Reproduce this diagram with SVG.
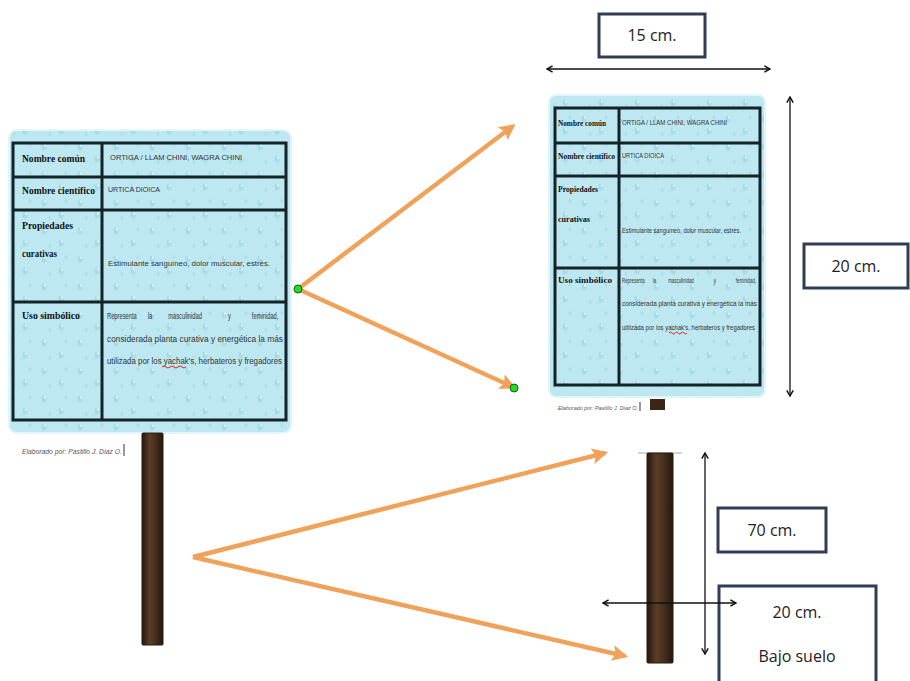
<svg xmlns="http://www.w3.org/2000/svg" width="910" height="681" viewBox="0 0 910 681">
<defs>
<style>
.panel{fill:url(#drops);stroke:#e2f5f9;stroke-width:2}
.tbl{fill:none;stroke:#142328;stroke-width:3}
.lbl{font-family:"Liberation Serif",serif;font-weight:bold;fill:#111;}
.val{font-family:"Liberation Sans",Arial,sans-serif;fill:#333;}
.foot{font-family:"Liberation Sans",Arial,sans-serif;font-style:italic;fill:#555;}
.post{fill:url(#wood);stroke:#2a1a10;stroke-width:1}
.dim{fill:#fff;stroke:#2f3e55;stroke-width:3}
.dimtxt{font-family:"Open Sans","Liberation Sans",sans-serif;font-size:16px;fill:#222;text-anchor:middle}
.dline{stroke:#111;stroke-width:1.3;fill:none;marker-start:url(#dh);marker-end:url(#dh)}
.orange{stroke:#f0a25a;stroke-width:4.5;fill:none;marker-end:url(#oh)}
.dot{fill:#22dd22;stroke:#1a5a1a;stroke-width:1}
</style>
<pattern id="drops" width="36" height="28" patternUnits="userSpaceOnUse">
<rect width="36" height="28" fill="#bde8f1"/>
<ellipse cx="8" cy="7" rx="2.5" ry="3.5" fill="#a6dbe7"/>
<ellipse cx="25" cy="19" rx="2.5" ry="3.5" fill="#a6dbe7"/>
<ellipse cx="9" cy="5.5" rx="1" ry="1.2" fill="#e6f8fb"/>
<ellipse cx="26" cy="17.5" rx="1" ry="1.2" fill="#e6f8fb"/>
<ellipse cx="30" cy="5" rx="1.5" ry="2" fill="#b0e0ea"/>
<ellipse cx="14" cy="22" rx="1.5" ry="2" fill="#b0e0ea"/>
</pattern>
<linearGradient id="wood" x1="0" y1="0" x2="1" y2="0">
<stop offset="0" stop-color="#24160c"/>
<stop offset="0.35" stop-color="#5a3e28"/>
<stop offset="0.6" stop-color="#4a3220"/>
<stop offset="1" stop-color="#24160c"/>
</linearGradient>
<marker id="oh" viewBox="0 0 10 10" refX="8" refY="5" markerWidth="16" markerHeight="16" markerUnits="userSpaceOnUse" orient="auto">
<path d="M0,0 L10,5 L0,10 L2,5 Z" fill="#f0a25a"/>
</marker>
<marker id="dh" viewBox="0 0 10 10" refX="9" refY="5" markerWidth="8" markerHeight="8" markerUnits="userSpaceOnUse" orient="auto-start-reverse">
<path d="M2,1 L9,5 L2,9" fill="none" stroke="#111" stroke-width="1.8"/>
</marker>
</defs>
<rect width="910" height="681" fill="#ffffff"/>

<g id="sign-left">
<rect class="panel" x="9" y="130" width="282" height="303" rx="8"/>
<rect class="tbl" x="13" y="143" width="273" height="277"/>
<line class="tbl" x1="13" y1="177" x2="286" y2="177"/>
<line class="tbl" x1="13" y1="210" x2="286" y2="210"/>
<line class="tbl" x1="13" y1="302" x2="286" y2="302"/>
<line class="tbl" x1="102" y1="143" x2="102" y2="420"/>
<text class="lbl" x="22" y="162" font-size="11" textLength="63" lengthAdjust="spacingAndGlyphs">Nombre común</text>
<text class="val" x="110" y="160" font-size="8" textLength="132" lengthAdjust="spacingAndGlyphs">ORTIGA / LLAM CHINI, WAGRA CHINI</text>
<text class="lbl" x="22" y="194" font-size="11" textLength="73" lengthAdjust="spacingAndGlyphs">Nombre científico</text>
<text class="val" x="108" y="192" font-size="8" textLength="52" lengthAdjust="spacingAndGlyphs">URTICA DIOICA</text>
<text class="lbl" x="22" y="229" font-size="11" textLength="51" lengthAdjust="spacingAndGlyphs">Propiedades</text>
<text class="lbl" x="22" y="257" font-size="11" textLength="35" lengthAdjust="spacingAndGlyphs">curativas</text>
<text class="val" x="108" y="266" font-size="8" textLength="162" lengthAdjust="spacingAndGlyphs">Estimulante  sanguíneo, dolor muscular, estrés.</text>
<text class="lbl" x="22" y="319" font-size="11" textLength="58" lengthAdjust="spacingAndGlyphs">Uso simbólico</text>
<text class="val" font-size="8.5" transform="translate(107,319) scale(0.68,1)"><tspan x="0">Representa</tspan><tspan x="60">la</tspan><tspan x="90">masculinidad</tspan><tspan x="178">y</tspan><tspan x="213">feminidad,</tspan></text>
<text class="val" x="107" y="342" font-size="8.5" textLength="176" lengthAdjust="spacingAndGlyphs">considerada  planta  curativa  y  energética  la  más</text>
<text class="val" x="107" y="364" font-size="8.5" textLength="175" lengthAdjust="spacingAndGlyphs">utilizada por los yachak's, herbateros y fregadores</text>
<path d="M162,367 q2,-2 4,0 t4,0 t4,0 t4,0 t4,0 t4,0" fill="none" stroke="#d22" stroke-width="1"/>
<text class="foot" x="22" y="454" font-size="7" textLength="100" lengthAdjust="spacingAndGlyphs">Elaborado  por: Pastillo J. Díaz O.</text>
<line x1="124" y1="444" x2="124" y2="456" stroke="#333" stroke-width="1"/>
</g>

<g id="post-left">
<rect class="post" x="142" y="433" width="21" height="212" rx="1"/>
</g>

<g id="sign-right">
<rect class="panel" x="549" y="95" width="216" height="302" rx="7"/>
<rect class="tbl" x="555" y="108" width="205" height="277"/>
<line class="tbl" x1="555" y1="143" x2="760" y2="143"/>
<line class="tbl" x1="555" y1="176" x2="760" y2="176"/>
<line class="tbl" x1="555" y1="268" x2="760" y2="268"/>
<line class="tbl" x1="619" y1="108" x2="619" y2="385"/>
<text class="lbl" x="558" y="126" font-size="8.5" textLength="48" lengthAdjust="spacingAndGlyphs">Nombre común</text>
<text class="val" x="622" y="125" font-size="7.5" textLength="105" lengthAdjust="spacingAndGlyphs">ORTIGA / LLAM CHINI, WAGRA CHINI</text>
<text class="lbl" x="558" y="159" font-size="8" textLength="57" lengthAdjust="spacingAndGlyphs">Nombre científico</text>
<text class="val" x="622" y="158" font-size="7.5" textLength="42" lengthAdjust="spacingAndGlyphs">URTICA DIOICA</text>
<text class="lbl" x="558" y="192" font-size="9" textLength="40" lengthAdjust="spacingAndGlyphs">Propiedades</text>
<text class="lbl" x="558" y="222" font-size="9" textLength="32" lengthAdjust="spacingAndGlyphs">curativas</text>
<text class="val" x="622" y="233" font-size="7.5" textLength="119" lengthAdjust="spacingAndGlyphs">Estimulante sanguíneo, dolor muscular, estrés.</text>
<text class="lbl" x="558" y="283" font-size="8" textLength="54" lengthAdjust="spacingAndGlyphs">Uso simbólico</text>
<text class="val" font-size="8" transform="translate(622,283) scale(0.55,1)"><tspan x="0">Representa</tspan><tspan x="56">la</tspan><tspan x="84">masculinidad</tspan><tspan x="167">y</tspan><tspan x="207">feminidad,</tspan></text>
<text class="val" x="622" y="306" font-size="8" textLength="135" lengthAdjust="spacingAndGlyphs">considerada  planta  curativa  y  energética  la  más</text>
<text class="val" x="622" y="330" font-size="8" textLength="133" lengthAdjust="spacingAndGlyphs">utilizada por los yachak's, herbateros y fregadores</text>
<path d="M669,333 q1.5,-2 3,0 t3,0 t3,0 t3,0 t3,0 t3,0" fill="none" stroke="#d22" stroke-width="1"/>
<text class="foot" x="558" y="410" font-size="6" textLength="80" lengthAdjust="spacingAndGlyphs">Elaborado  por: Pastillo J. Díaz O.</text>
<line x1="640" y1="402" x2="640" y2="411" stroke="#333" stroke-width="1"/>
<rect x="650" y="399" width="15" height="11" fill="#3a2616"/>
</g>

<g id="post-right">
<line x1="638" y1="453" x2="682" y2="453" stroke="#aaa" stroke-width="1"/>
<rect class="post" x="647" y="453" width="26" height="210" rx="1"/>
</g>

<g id="dim-15">
<rect class="dim" x="599" y="14" width="106" height="43"/>
<text class="dimtxt" x="652" y="41">15 cm.</text>
</g>
<g id="dim-20">
<rect class="dim" x="804" y="244" width="104" height="44"/>
<text class="dimtxt" x="856" y="272">20 cm.</text>
</g>
<g id="dim-70">
<rect class="dim" x="718" y="508" width="108" height="44"/>
<text class="dimtxt" x="772" y="536">70 cm.</text>
</g>
<g id="dim-bajo">
<path class="dim" d="M719,690 L719,586 L876,586 L876,690"/>
<text class="dimtxt" x="797" y="618">20 cm.</text>
<text class="dimtxt" x="797" y="662">Bajo suelo</text>
</g>

<g id="connectors">
<line class="dline" x1="547" y1="69" x2="770" y2="69"/>
<line class="dline" x1="790" y1="97" x2="790" y2="396"/>
<line class="dline" x1="705" y1="453" x2="705" y2="654"/>
<line class="dline" x1="603" y1="603" x2="736" y2="603"/>
<line class="orange" x1="298" y1="289" x2="513" y2="126"/>
<line class="orange" x1="298" y1="289" x2="513" y2="387"/>
<line class="orange" x1="193" y1="557" x2="605" y2="453"/>
<line class="orange" x1="193" y1="557" x2="625" y2="656"/>
<circle class="dot" cx="298" cy="289" r="4"/>
<circle class="dot" cx="514" cy="388" r="4"/>
</g>
</svg>
